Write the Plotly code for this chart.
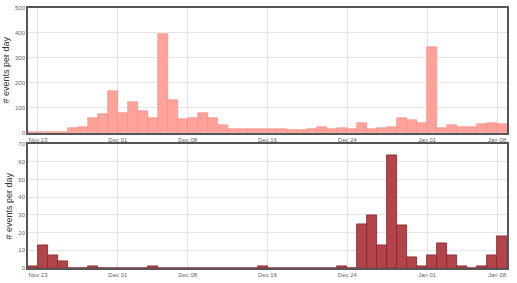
import pandas as pd
import plotly.graph_objects as go
from plotly.subplots import make_subplots

dates = pd.date_range("2012-11-22", "2013-01-08", freq="D")

top_values = [3, 3, 2, 2,
              18, 22, 59, 75, 166,
              78, 121, 86, 60, 397, 129, 54,
              59, 79, 60, 29, 14, 14, 16,
              16, 16, 13, 10, 10, 14, 22,
              13, 20, 16, 38, 14, 20, 24,
              57, 50, 37,
              343, 17, 30, 24, 21, 36, 38, 36]

bottom_values = [1, 13, 7, 4,
                 0, 0, 1, 0, 0,
                 0, 0, 0, 1, 0, 0, 0,
                 0, 0, 0, 0, 0, 0, 0,
                 1, 0, 0, 0, 0, 0, 0,
                 0, 1, 0, 25, 30, 13, 64,
                 24, 6, 1,
                 7, 14, 7, 1, 0, 1, 7, 18]

tick_dates = ["2012-11-23", "2012-12-01", "2012-12-08", "2012-12-16",
              "2012-12-24", "2013-01-01", "2013-01-08"]
tick_labels = ["Nov 23", "Dec 01", "Dec 08", "Dec 16", "Dec 24", "Jan 01", "Jan 08"]

y_title = "# events per day"
DAY = 86400000

fig = make_subplots(rows=2, cols=1, vertical_spacing=0.045)

fig.add_trace(go.Bar(x=dates, y=top_values, width=DAY, offset=0,
                     marker=dict(color="#ffa39a", line=dict(color="#f5887d", width=0.6))),
              row=1, col=1)
fig.add_trace(go.Bar(x=dates, y=bottom_values, width=DAY, offset=0,
                     marker=dict(color="#b3444a", line=dict(color="#86222a", width=0.8))),
              row=2, col=1)

xcommon = dict(type="date", range=["2012-11-22", "2013-01-09"],
               tickvals=tick_dates, ticktext=tick_labels,
               showgrid=True, gridcolor="#e2e2e2", gridwidth=1,
               showline=True, linecolor="#555", linewidth=1.5, mirror=True,
               ticks="", tickfont=dict(size=6, color="#666", family="Arial"),
               zeroline=False)
ycommon = dict(showgrid=True, gridcolor="#e6e6e6", gridwidth=1,
               showline=True, linecolor="#555", linewidth=1.5, mirror=True,
               ticks="", tickfont=dict(size=6, color="#666", family="Arial"),
               zeroline=False,
               title=dict(text=y_title, font=dict(size=9, color="#333", family="Arial"), standoff=4))

fig.update_xaxes(**xcommon)
fig.update_yaxes(**ycommon)
fig.update_yaxes(range=[0, 500], tickvals=[0, 100, 200, 300, 400, 500], row=1, col=1)
fig.update_yaxes(range=[0, 70], tickvals=[0, 10, 20, 30, 40, 50, 60, 70], row=2, col=1)

fig.update_layout(
    width=517, height=283,
    margin=dict(l=25, r=10, t=5, b=11),
    paper_bgcolor="white", plot_bgcolor="white",
    showlegend=False, bargap=0,
    xaxis=dict(domain=[0, 1]), xaxis2=dict(domain=[0, 1]),
    yaxis=dict(domain=[0.5206, 1]), yaxis2=dict(domain=[0, 0.4757]),
)

fig.write_html("out.html")
